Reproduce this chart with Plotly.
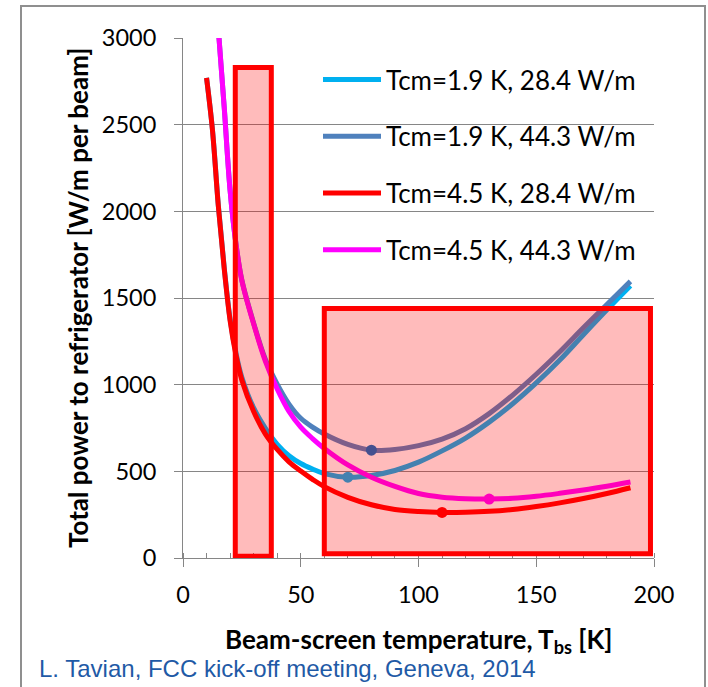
import plotly.graph_objects as go

# ---- data ----
T_bs = [10, 12.5, 15, 17.5, 20, 22.5, 25, 30, 35, 40, 45, 50, 55, 60, 70, 80, 90,
        100, 110, 120, 130, 140, 150, 160, 170, 180, 190]
T_bs_44 = [15, 17.5, 20, 22.5, 25, 30, 35, 40, 45, 50, 55, 60, 70, 80, 90,
           100, 110, 120, 130, 140, 150, 160, 170, 180, 190]

p_19_284 = [2770, 2472, 2034, 1676, 1378, 1182, 1042, 866, 748, 656, 590, 545, 513, 487, 466, 476, 505,
            553, 618, 692, 784, 890, 1010, 1142, 1288, 1432, 1571]
p_19_443 = [3052, 2602, 2122, 1812, 1603, 1355, 1145, 1003, 888, 806, 755, 715, 655, 622, 626,
            648, 686, 746, 833, 940, 1060, 1190, 1328, 1462, 1596]
p_45_284 = [2770, 2470, 2030, 1670, 1370, 1170, 1025, 845, 715, 626, 555, 502, 454, 412, 350, 307, 280,
            268, 263, 264, 269, 280, 297, 318, 343, 372, 405]
p_45_443 = [3050, 2600, 2120, 1810, 1600, 1350, 1135, 975, 845, 755, 689, 632, 537, 466, 413,
            372, 351, 342, 340, 344, 356, 373, 392, 414, 438]

series_names = ["Tcm=1.9 K, 28.4 W/m", "Tcm=1.9 K, 44.3 W/m",
                "Tcm=4.5 K, 28.4 W/m", "Tcm=4.5 K, 44.3 W/m"]
series_x = [T_bs, T_bs_44, T_bs, T_bs_44]
series_y = [p_19_284, p_19_443, p_45_284, p_45_443]
line_colors = ["#00B0F0", "#4F81BD", "#FF0000", "#FF00FF"]
marker_colors = ["#00B0F0", "#006EC3", "#FF0000", "#FF00FF"]

# optimum points (dots)
opt_T = [70, 80, 110, 130]
opt_P = [466, 622, 263, 340]

# highlighted ranges: (T_min, P_min, T_max, P_max)
range_boxes = [(22.2, 10, 37.5, 2830), (60, 25, 198.5, 1440)]

x_ticks = [0, 50, 100, 150, 200]
y_ticks = [0, 500, 1000, 1500, 2000, 2500, 3000]

x_title = "Beam-screen temperature, T<sub>bs</sub> [K]"
y_title = "Total power to refrigerator [W/m per beam]"
citation = "L. Tavian, FCC kick-off meeting, Geneva, 2014"

# ---- figure ----
fig = go.Figure()
for i in range(4):
    fig.add_trace(go.Scatter(
        x=series_x[i], y=series_y[i], mode="lines", name=series_names[i],
        line=dict(color=line_colors[i], width=5, shape="spline", smoothing=1.0),
        legendgroup=f"g{i}", showlegend=True))
    fig.add_trace(go.Scatter(
        x=[opt_T[i]], y=[opt_P[i]], mode="markers",
        marker=dict(color=marker_colors[i], size=11),
        legendgroup=f"g{i}", showlegend=False))

for (x0, y0, x1, y1) in range_boxes:
    fig.add_shape(type="rect", xref="x", yref="y", x0=x0, y0=y0, x1=x1, y1=y1,
                  line=dict(color="#FF0000", width=5),
                  fillcolor="rgba(255,0,0,0.267)", layer="above")

W, H = 708, 687
L, R, TM, B = 183, 54, 38, 129
pw, ph = W - L - R, H - TM - B

def px_x(p):
    return (p - L) / pw

def px_y(p):
    return (H - B - p) / ph

# outer frame
fig.add_shape(type="rect", xref="paper", yref="paper",
              x0=px_x(21), x1=px_x(705), y0=px_y(720), y1=px_y(6),
              line=dict(color="#8F8F8F", width=2), fillcolor="rgba(0,0,0,0)", layer="below")

fig.add_annotation(text=y_title, xref="paper", yref="paper", x=px_x(78), y=0.5,
                   textangle=-90, showarrow=False, xanchor="center", yanchor="middle",
                   font=dict(family="Lato", size=26, color="black", weight="bold"))
fig.add_annotation(text=x_title, xref="paper", yref="paper", x=0.5, y=px_y(641),
                   showarrow=False, xanchor="center", yanchor="middle",
                   font=dict(family="Lato", size=26, color="black", weight="bold"))
fig.add_annotation(text=citation, xref="paper", yref="paper", x=px_x(37), y=px_y(668),
                   showarrow=False, xanchor="left", yanchor="middle",
                   font=dict(family="Liberation Sans", size=24, color="#1F5AA6"))

axis_gray = "#868686"
fig.update_layout(
    width=W, height=H,
    margin=dict(l=L, r=R, t=TM, b=B),
    paper_bgcolor="white", plot_bgcolor="white",
    font=dict(family="Lato", size=24, color="black"),
    showlegend=True,
    legend=dict(x=px_x(318), y=px_y(56), xanchor="left", yanchor="top",
                bgcolor="rgba(0,0,0,0)", font=dict(family="Lato", size=26, color="black"),
                tracegroupgap=20, traceorder="grouped", itemwidth=58),
    xaxis=dict(range=[0, 200], tickvals=x_ticks, showgrid=False, zeroline=False,
               showline=True, linecolor=axis_gray, linewidth=1,
               ticks="outside", ticklen=8, tickcolor=axis_gray, tickwidth=1,
               ticklabelstandoff=8,
               minor=dict(dtick=10, ticks="inside", ticklen=5, tickcolor=axis_gray, showgrid=False),
               tickfont=dict(family="Lato", size=23.5, color="black")),
    yaxis=dict(range=[0, 3000], tickvals=y_ticks, showgrid=True, gridcolor=axis_gray, gridwidth=1,
               zeroline=False, showline=True, linecolor=axis_gray, linewidth=1,
               ticks="outside", ticklen=8, tickcolor=axis_gray, tickwidth=1,
               ticklabelstandoff=13,
               tickfont=dict(family="Lato", size=23.5, color="black")),
)

fig.write_html("out.html")
